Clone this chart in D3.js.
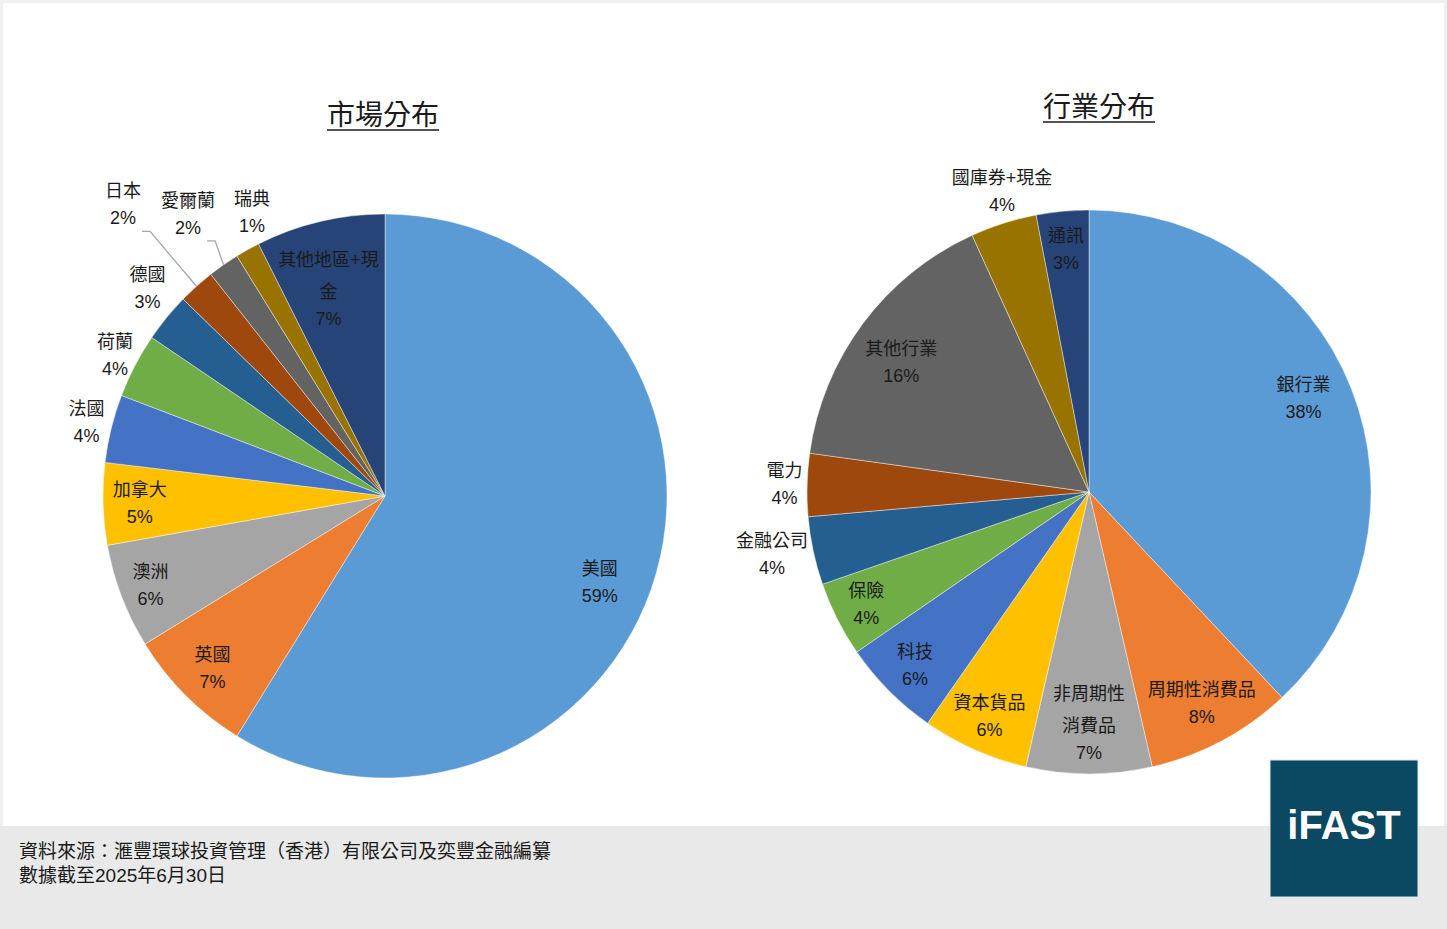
<!DOCTYPE html>
<html lang="zh-Hant">
<head>
<meta charset="UTF-8">
<title>市場分布 / 行業分布</title>
<script src="https://cdnjs.cloudflare.com/ajax/libs/d3/7.8.5/d3.min.js"></script>
<style>
  html, body { margin: 0; padding: 0; background: #fff; }
  svg { display: block; }
  text { font-family: "Liberation Sans", Arial, "Noto Sans CJK TC", sans-serif; }
</style>
</head>
<body>
<svg id="chart" width="1447" height="929"></svg>
<script>
// ---- data ----
const marketNames = ["美國", "英國", "澳洲", "加拿大", "法國", "荷蘭", "德國", "日本", "愛爾蘭", "瑞典", "其他地區+現金"];
const marketValues = [58.8, 7.4, 6.0, 4.7, 3.9, 3.7, 2.8, 2.1, 1.8, 1.4, 7.4];
const marketLabels = [["美國"], ["英國"], ["澳洲"], ["加拿大"], ["法國"], ["荷蘭"], ["德國"], ["日本"], ["愛爾蘭"], ["瑞典"], ["其他地區+現", "金"]];

const sectorNames = ["銀行業", "周期性消費品", "非周期性消費品", "資本貨品", "科技", "保險", "金融公司", "電力", "其他行業", "國庫券+現金", "通訊"];
const sectorValues = [38.0, 8.4, 7.2, 6.1, 5.7, 4.3, 3.9, 3.6, 16.0, 3.8, 3.0];
const sectorLabels = [["銀行業"], ["周期性消費品"], ["非周期性", "消費品"], ["資本貨品"], ["科技"], ["保險"], ["金融公司"], ["電力"], ["其他行業"], ["國庫券+現金"], ["通訊"]];

const palette = ["#5b9bd5", "#ed7d31", "#a5a5a5", "#ffc000", "#4472c4", "#70ad47",
                 "#255e91", "#9e480e", "#636363", "#997300", "#264478"];

// label placement (radius factor, angle nudge in degrees, leader line)
const marketLayout = [
  {k: 0.82, da: 6}, {k: 0.865}, {k: 0.89}, {k: 0.87}, {k: 1.09}, {k: 1.08},
  {k: 1.12, da: 2}, {k: 1.39, leader: true}, {k: 1.22, leader: true}, {k: 1.11, da: 4}, {k: 0.76, da: -2}
];
const sectorLayout = [
  {k: 0.83, da: -2}, {k: 0.85}, {k: 0.82}, {k: 0.87}, {k: 0.87}, {k: 0.885},
  {k: 1.145, da: 1}, {k: 1.08}, {k: 0.81, da: -2}, {k: 1.11, da: 1.5}, {k: 0.865}
];

const W = 1447, H = 929;
const svg = d3.select("#chart");

// faint page frame
svg.append("rect").attr("x", 1.5).attr("y", 1.5).attr("width", W - 3).attr("height", H - 3)
  .attr("fill", "#fff").attr("stroke", "#f0f0f0").attr("stroke-width", 3);

// footer band
svg.append("rect").attr("x", 0).attr("y", 826).attr("width", W).attr("height", H - 826).attr("fill", "#e9e9e9");
const foot = svg.append("text").attr("x", 19).attr("font-size", 19).attr("fill", "#1a1a1a");
foot.append("tspan").attr("x", 19).attr("y", 858).text("資料來源：滙豐環球投資管理（香港）有限公司及奕豐金融編纂");
foot.append("tspan").attr("x", 19).attr("y", 882).text("數據截至2025年6月30日");

// logo
svg.append("rect").attr("x", 1270).attr("y", 760).attr("width", 148).attr("height", 137)
  .attr("fill", "#0b4862").attr("stroke", "#dfe6ea").attr("stroke-width", 1);
svg.append("text").attr("x", 1344).attr("y", 839).attr("text-anchor", "middle")
  .attr("font-size", 40).attr("font-weight", "bold").attr("fill", "#fff").text("iFAST");

function drawPie(cfg) {
  const {cx, cy, r, names, values, labels, layout, title, tx, ty} = cfg;
  const g = svg.append("g").attr("transform", `translate(${cx},${cy})`);
  const color = d3.scaleOrdinal().domain(names).range(palette);
  const pie = d3.pie().sort(null).value(d => d.v);
  const data = names.map((n, i) => ({n, v: values[i], lab: labels[i], lay: layout[i]}));
  const arcs = pie(data);
  const arc = d3.arc().innerRadius(0).outerRadius(r);

  g.selectAll("path.slice").data(arcs).join("path")
    .attr("class", "slice")
    .attr("d", arc)
    .attr("fill", d => color(d.data.n))
    .attr("stroke", "#ffffff").attr("stroke-opacity", 0.6).attr("stroke-width", 0.7);

  const fs = 18;
  arcs.forEach(d => {
    const lay = d.data.lay;
    const a = (d.startAngle + d.endAngle) / 2 + (lay.da || 0) * Math.PI / 180;
    const lx = Math.sin(a) * r * lay.k;
    const ly = -Math.cos(a) * r * lay.k;
    const lines = d.data.lab.slice();
    const pct = Math.round(d.data.v) + "%";
    // vertical layout: 32px between name lines, 27px name -> pct
    const total = (lines.length - 1) * 32 + 27;
    let y0 = ly - total / 2;
    const t = g.append("text").attr("text-anchor", "middle").attr("font-size", fs).attr("fill", "#1a1a1a");
    lines.forEach((s, i) => {
      t.append("tspan").attr("x", lx).attr("y", y0 + i * 32).attr("dy", "0.35em").text(s);
    });
    t.append("tspan").attr("x", lx).attr("y", y0 + (lines.length - 1) * 32 + 27).attr("dy", "0.35em").text(pct);

    if (lay.leader) {
      const ma = (d.startAngle + d.endAngle) / 2;
      const ex = Math.sin(ma) * r, ey = -Math.cos(ma) * r;
      const pts = [[lx + 19, ly + 27], [lx + 27, ly + 27], [ex, ey]];
      g.append("path").attr("d", d3.line()(pts))
        .attr("fill", "none").attr("stroke", "#a6a6a6").attr("stroke-width", 1.3);
    }
  });

  // title with underline
  const tt = svg.append("text").attr("x", tx).attr("y", ty).attr("text-anchor", "middle")
    .attr("font-size", 28).attr("fill", "#1a1a1a").text(title);
  const bb = tt.node().getBBox();
  svg.append("line").attr("x1", bb.x).attr("x2", bb.x + bb.width)
    .attr("y1", ty + 5).attr("y2", ty + 5).attr("stroke", "#1a1a1a").attr("stroke-width", 1.5);
}

drawPie({cx: 385, cy: 496, r: 282, names: marketNames, values: marketValues, labels: marketLabels,
         layout: marketLayout, title: "市場分布", tx: 383, ty: 125});
drawPie({cx: 1089, cy: 492, r: 282, names: sectorNames, values: sectorValues, labels: sectorLabels,
         layout: sectorLayout, title: "行業分布", tx: 1099, ty: 117});
</script>
</body>
</html>
